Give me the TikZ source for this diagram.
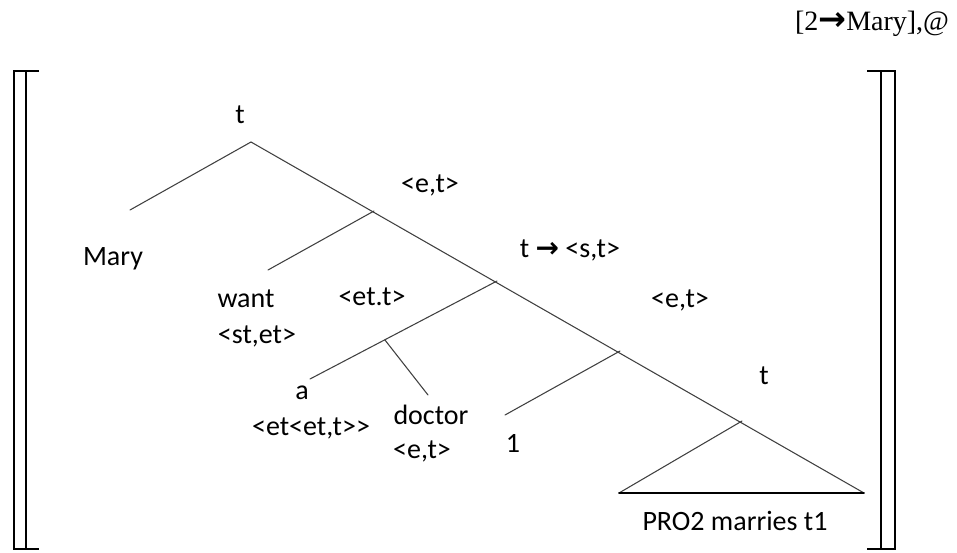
\documentclass[tikz,border=0pt]{standalone}
\usepackage{fontspec}
\setmainfont{Carlito}
\newfontfamily\seriffont{Liberation Serif}
\newfontfamily\arrowfont{DejaVu Sans}
\usetikzlibrary{calc}
\begin{document}
\begin{tikzpicture}[x=0.75pt,y=-0.75pt,line join=round,line cap=round,font=\fontsize{21}{25}\selectfont,
	branch/.style={draw=black!75,line width=0.8pt},
	brk/.style={line width=1.5pt,line cap=butt,line join=miter},
	lbl/.style={anchor=base,inner sep=0pt}]
	\useasboundingbox (0,0) rectangle (957,553);
	\def\top{71} % dau ngoac
	\def\bot{549} % chan ngoac
	% cac dinh cua cay
	\path
	(251,142) coordinate (root)
	(374,211) coordinate (n1)
	(497,281) coordinate (n2)
	(620,351) coordinate (n3)
	(742,421) coordinate (n4)
	(864,493) coordinate (bright)
	(619,493) coordinate (bleft)
	(130,210) coordinate (mary)
	(268,270) coordinate (want)
	(310,379) coordinate (a)
	(428,395) coordinate (doctor)
	(505,415) coordinate (one);
	\coordinate (np) at ($(n2)!0.6!(a)$);
	% ve cac nhanh
	\draw[branch] (root)--(bright);
	\draw[branch] (root)--(mary) (n1)--(want) (n2)--(a) (np)--(doctor) (n3)--(one);
	\draw[branch] (n4)--(bleft);
	\draw[line width=1.3pt] (bleft)--(bright);
	% ve ngoac vuong
	\draw[brk] (39,\top)--(14,\top)--(14,\bot)--(39,\bot) (26,\top)--(26,\bot);
	\draw[brk] (867,\top)--(895,\top)--(895,\bot)--(867,\bot) (881,\top)--(881,\bot);
	% cac nhan
	\node[lbl] (assign) at (872,30) {\seriffont [2{\arrowfont\bfseries\fontsize{25}{25}\selectfont →}Mary],@};
	\node[lbl] (tRoot) at (240,123) {t};
	\node[lbl] (lMary) at (113,265) {Mary};
	\node[lbl] (et1) at (430,192) {<e,t>};
	\node[lbl] (lWant) at (246,307) {want};
	\node[lbl] (tWant) at (257,343) {<st,et>};
	\node[lbl] (ett) at (372,305) {<et.t>};
	\node[lbl] (tst) at (570,257) {t {\arrowfont\bfseries →} <s,t>};
	\node[lbl] (et2) at (680,307) {<e,t>};
	\node[lbl] (la) at (302,399) {a};
	\node[lbl] (ta) at (311,435) {<et<et,t>{}>};
	\node[lbl] (lDoctor) at (431,424) {doctor};
	\node[lbl] (tDoctor) at (422,458) {<e,t>};
	\node[lbl] (lOne) at (513,452) {1};
	\node[lbl] (tLow) at (764,384) {t};
	\node[lbl] (lPro) at (735,530) {PRO2 marries t1};
\end{tikzpicture}
\end{document}
